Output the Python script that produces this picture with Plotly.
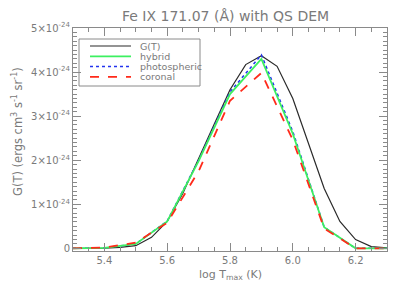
import plotly.graph_objects as go

# G(T) sampled every 0.05 dex
logt_g = [5.30, 5.35, 5.40, 5.45, 5.50, 5.55, 5.60, 5.65, 5.70, 5.75, 5.80,
          5.85, 5.90, 5.95, 6.00, 6.05, 6.10, 6.15, 6.20, 6.25, 6.30]
g_t = [0.0, 0.0, 0.005, 0.02, 0.06, 0.25, 0.61, 1.25, 2.05, 2.82, 3.60,
       4.17, 4.37, 4.13, 3.40, 2.38, 1.36, 0.61, 0.20, 0.04, 0.01]

# DEM-weighted curves sampled every 0.1 dex
logt_d = [5.3, 5.4, 5.5, 5.6, 5.7, 5.8, 5.9, 6.0, 6.1, 6.2, 6.3]
hybrid = [0.0, 0.01, 0.10, 0.61, 1.98, 3.50, 4.30, 2.60, 0.48, 0.0, 0.0]
photospheric = [0.0, 0.01, 0.10, 0.62, 2.00, 3.55, 4.39, 2.65, 0.48, 0.0, 0.0]
coronal = [0.0, 0.02, 0.13, 0.58, 1.75, 3.35, 3.98, 2.46, 0.45, 0.0, 0.0]

ytick_vals = [0, 1, 2, 3, 4, 5]
ytick_text = ["0", "1×10<sup>-24</sup>", "2×10<sup>-24</sup>", "3×10<sup>-24</sup>",
              "4×10<sup>-24</sup>", "5×10<sup>-24</sup>"]
xtick_vals = [5.4, 5.6, 5.8, 6.0, 6.2]
xtick_text = ["5.4", "5.6", "5.8", "6.0", "6.2"]

legend_names = ["G(T)", "hybrid", "photospheric", "coronal"]

C_BLACK = "#2a2a2a"
C_GREEN = "#3cf060"
C_BLUE = "#2233ee"
C_RED = "#ff2a1a"
C_AXIS = "#8a8a8a"
C_TEXT = "#7a7a7a"
FONT = "DejaVu Sans"

styles = [
    dict(color=C_BLACK, width=1.2, dash="solid"),
    dict(color=C_GREEN, width=1.8, dash="solid"),
    dict(color=C_BLUE, width=1.5, dash="dot"),
    dict(color=C_RED, width=1.8, dash="dash"),
]

fig = go.Figure()
fig.add_trace(go.Scatter(x=logt_g, y=g_t, mode="lines", line=styles[0], showlegend=False))
fig.add_trace(go.Scatter(x=logt_d, y=photospheric, mode="lines", line=styles[2], showlegend=False))
fig.add_trace(go.Scatter(x=logt_d, y=hybrid, mode="lines", line=styles[1], showlegend=False))
fig.add_trace(go.Scatter(x=logt_d, y=coronal, mode="lines", line=styles[3], showlegend=False))

# manual legend (paper coords)
L, R, T, B = 65, 379, 20, 243
W, H = R - L, B - T
def px(x):
    return (x - L) / W
def py(y):
    return (B - y) / H

shapes = [dict(type="rect", xref="paper", yref="paper",
               x0=px(71), x1=px(192), y0=py(78), y1=py(31),
               line=dict(color=C_AXIS, width=1), fillcolor="rgba(0,0,0,0)")]
annotations = []
item_y = [38, 48.3, 58.6, 68.9]
for name, st, yy in zip(legend_names, styles, item_y):
    shapes.append(dict(type="line", xref="paper", yref="paper",
                       x0=px(82), x1=px(123), y0=py(yy), y1=py(yy),
                       line=dict(color=st["color"], width=st["width"], dash=st["dash"])))
    annotations.append(dict(xref="paper", yref="paper", x=px(130), y=py(yy),
                            text=name, showarrow=False, xanchor="left", yanchor="middle",
                            font=dict(family=FONT, size=9.5, color=C_TEXT)))

annotations.append(dict(xref="paper", yref="paper", x=px(217.5), y=py(8),
                        text="Fe IX 171.07 (Å) with QS DEM", showarrow=False,
                        xanchor="center", yanchor="middle",
                        font=dict(family=FONT, size=14, color=C_TEXT)))
annotations.append(dict(xref="paper", yref="paper", x=px(222), y=py(267),
                        text="log T<sub>max</sub> (K)", showarrow=False,
                        xanchor="center", yanchor="middle",
                        font=dict(family=FONT, size=11, color=C_TEXT)))
annotations.append(dict(xref="paper", yref="paper", x=px(9), y=py(124),
                        text="G(T) (ergs cm<sup>3</sup> s<sup>-1</sup> sr<sup>-1</sup>)",
                        showarrow=False, textangle=-90,
                        xanchor="center", yanchor="middle",
                        font=dict(family=FONT, size=11.5, color=C_TEXT)))

axis_common = dict(showgrid=False, zeroline=False, showline=True, linecolor=C_AXIS,
                   linewidth=1, mirror="allticks", ticks="inside", tickcolor=C_AXIS,
                   automargin=False,
                   tickfont=dict(family=FONT, size=10, color=C_TEXT))

fig.update_layout(
    width=399, height=285,
    margin=dict(l=L, r=399 - R, t=T, b=285 - B),
    paper_bgcolor="white", plot_bgcolor="white",
    shapes=shapes, annotations=annotations,
    xaxis=dict(range=[5.3, 6.3], tickvals=xtick_vals, ticktext=xtick_text,
               ticklen=8, minor=dict(dtick=0.05, tick0=5.3, ticklen=4, ticks="inside", tickcolor=C_AXIS),
               **axis_common),
    yaxis=dict(range=[-0.06, 5.0], tickvals=ytick_vals, ticktext=ytick_text,
               ticklen=8, minor=dict(dtick=0.1, tick0=0, ticklen=4, ticks="inside", tickcolor=C_AXIS),
               **axis_common),
)

fig.write_html("out.html")
